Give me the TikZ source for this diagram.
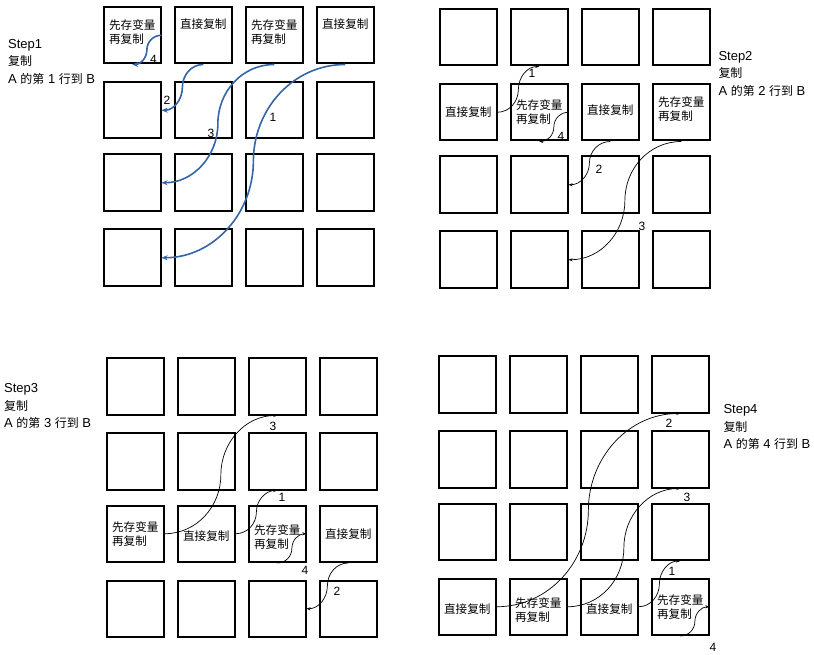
\documentclass[tikz,border=0pt]{standalone}
\usepackage{fontspec}
\setmainfont{Liberation Sans}
\newfontfamily\cjk[Scale=0.92]{Noto Sans CJK SC}
\usepackage{tikz}
\usetikzlibrary{arrows.meta, positioning, calc}
\definecolor{myblue}{RGB}{52,101,164}
\definecolor{mydark}{RGB}{0,0,0}
\tikzset{
  cell/.style={rectangle, draw=mydark, line width=2pt,
    minimum size=56.5pt, inner sep=0pt},
  celltext/.style={font=\fontsize{12.6}{14}\selectfont\cjk,
    align=left, inner sep=0pt},
  steplabel/.style={font=\fontsize{13}{17.5}\selectfont,
    align=left, anchor=north west, inner sep=0pt},
  num/.style={font=\fontsize{12}{14}\selectfont, inner sep=0pt},
  bluearrow/.style={-{Stealth[length=6pt,width=5pt]}, line width=1.6pt, color=myblue},
  arrow/.style={-{Stealth[length=4pt,width=3pt]}, line width=0.7pt, color=mydark}
}
\begin{document}
\begin{tikzpicture}[x=1pt, y=-1pt]
  \useasboundingbox (0,0) rectangle (814,655);

  % Step1
  \begin{scope}[shift={(103,6)}]
    \foreach \r/\y in {1/0,2/75,3/147.5,4/222.5}
      \foreach \c/\x in {1/0,2/71,3/142,4/213}
        \node[cell] (a\r\c) at (\x+29.25,\y+29.25) {};
  \end{scope}
  \node[steplabel] (laba) at (8,38.8) {Step1\\{\cjk 复制}\\A {\cjk 的第} 1 {\cjk 行到} B};
  \node[celltext, anchor=north] (a11t) at ([yshift=-13pt]a11.north) {先存变量\\再复制};
  \node[celltext, anchor=north] (a12t) at ([yshift=-13pt]a12.north) {直接复制};
  \node[celltext, anchor=north] (a13t) at ([yshift=-13pt]a13.north) {先存变量\\再复制};
  \node[celltext, anchor=north] (a14t) at ([yshift=-13pt]a14.north) {直接复制};
  \draw[bluearrow] (a11.east) to[out=180,in=90] ($(a11.east)!.5!(a11.south)$) to[out=-90,in=0] (a11.south);
  \draw[bluearrow] (a12.south) to[out=180,in=90] ($(a12.south)!.5!(a21.east)$) to[out=-90,in=0] (a21.east);
  \draw[bluearrow] (a13.south) to[out=180,in=90] ($(a13.south)!.5!(a31.east)$) to[out=-90,in=0] (a31.east);
  \draw[bluearrow] (a14.south) to[out=180,in=90] ($(a14.south)!.5!(a41.east)$) to[out=-90,in=0] (a41.east);
  \node[num] (na4) at (153.5,59.5) {4};
  \node[num] (na2) at (167,100) {2};
  \node[num] (na3) at (211,133) {3};
  \node[num] (na1) at (273,117) {1};

  % Step2
  \begin{scope}[shift={(439,8)}]
    \foreach \r/\y in {1/0,2/75,3/147.5,4/222.5}
      \foreach \c/\x in {1/0,2/71,3/142,4/213}
        \node[cell] (b\r\c) at (\x+29.25,\y+29.25) {};
  \end{scope}
  \node[steplabel] (labb) at (718.3,51) {Step2\\{\cjk 复制}\\A {\cjk 的第} 2 {\cjk 行到} B};
  \node[celltext] (b21t) at (b21) {直接复制};
  \node[celltext] (b22t) at (b22) {先存变量\\再复制};
  \node[celltext] (b23t) at ([yshift=2pt]b23) {直接复制};
  \node[celltext] (b24t) at ([yshift=3pt]b24) {先存变量\\再复制};
  \draw[arrow] (b21.east) to[out=0,in=-90] ($(b21.east)!.5!(b12.south)$) to[out=90,in=180] (b12.south);
  \draw[arrow] (b22.east) to[out=180,in=90] ($(b22.east)!.5!(b22.south)$) to[out=-90,in=0] (b22.south);
  \draw[arrow] (b23.south) to[out=180,in=90] ($(b23.south)!.5!(b32.east)$) to[out=-90,in=0] (b32.east);
  \draw[arrow] (b24.south) to[out=180,in=90] ($(b24.south)!.5!(b42.east)$) to[out=-90,in=0] (b42.east);
  \node[num] (nb1) at (532,73) {1};
  \node[num] (nb4) at (561,136) {4};
  \node[num] (nb2) at (599,169) {2};
  \node[num] (nb3) at (642,226) {3};

  % Step3
  \begin{scope}[shift={(106,357)}]
    \foreach \r/\y in {1/0,2/75,3/147.5,4/222.5}
      \foreach \c/\x in {1/0,2/71,3/142,4/213}
        \node[cell] (c\r\c) at (\x+29.25,\y+29.25) {};
  \end{scope}
  \node[steplabel] (labc) at (4,383.3) {Step3\\{\cjk 复制}\\A {\cjk 的第} 3 {\cjk 行到} B};
  \node[celltext] (c31t) at (c31) {先存变量\\再复制};
  \node[celltext] (c32t) at ([yshift=-2pt]c32) {直接复制};
  \node[celltext] (c33t) at ([yshift=-3pt]c33) {先存变量\\再复制};
  \node[celltext] (c34t) at (c34) {直接复制};
  \draw[arrow] (c31.east) to[out=0,in=-90] ($(c31.east)!.5!(c13.south)$) to[out=90,in=180] (c13.south);
  \draw[arrow] (c32.east) to[out=0,in=-90] ($(c32.east)!.5!(c23.south)$) to[out=90,in=180] (c23.south);
  \draw[arrow] (c33.south) to[out=0,in=-90] ($(c33.south)!.5!(c33.east)$) to[out=90,in=180] (c33.east);
  \draw[arrow] (c34.south) to[out=180,in=90] ($(c34.south)!.5!(c43.east)$) to[out=-90,in=0] (c43.east);
  \node[num] (nc3) at (273,426) {3};
  \node[num] (nc1) at (282,497) {1};
  \node[num] (nc4) at (305,570) {4};
  \node[num] (nc2) at (337,591) {2};

  % Step4
  \begin{scope}[shift={(438,355)}]
    \foreach \r/\y in {1/0,2/75,3/147.5,4/222.5}
      \foreach \c/\x in {1/0,2/71,3/142,4/213}
        \node[cell] (d\r\c) at (\x+29.25,\y+29.25) {};
  \end{scope}
  \node[steplabel] (labd) at (723.3,404.3) {Step4\\{\cjk 复制}\\A {\cjk 的第} 4 {\cjk 行到} B};
  \node[celltext] (d41t) at ([yshift=-2pt]d41) {直接复制};
  \node[celltext] (d42t) at ([yshift=-3pt]d42) {先存变量\\再复制};
  \node[celltext] (d43t) at ([yshift=-2pt]d43) {直接复制};
  \node[celltext] (d44t) at (d44) {先存变量\\再复制};
  \draw[arrow] (d41.east) to[out=0,in=-90] ($(d41.east)!.5!(d14.south)$) to[out=90,in=180] (d14.south);
  \draw[arrow] (d42.east) to[out=0,in=-90] ($(d42.east)!.5!(d24.south)$) to[out=90,in=180] (d24.south);
  \draw[arrow] (d43.east) to[out=0,in=-90] ($(d43.east)!.5!(d34.south)$) to[out=90,in=180] (d34.south);
  \draw[arrow] (d44.south) to[out=0,in=-90] ($(d44.south)!.5!(d44.east)$) to[out=90,in=180] (d44.east);
  \node[num] (nd2) at (669,423) {2};
  \node[num] (nd3) at (687,497) {3};
  \node[num] (nd1) at (672,571) {1};
  \node[num] (nd4) at (713,647) {4};
\end{tikzpicture}
\end{document}
